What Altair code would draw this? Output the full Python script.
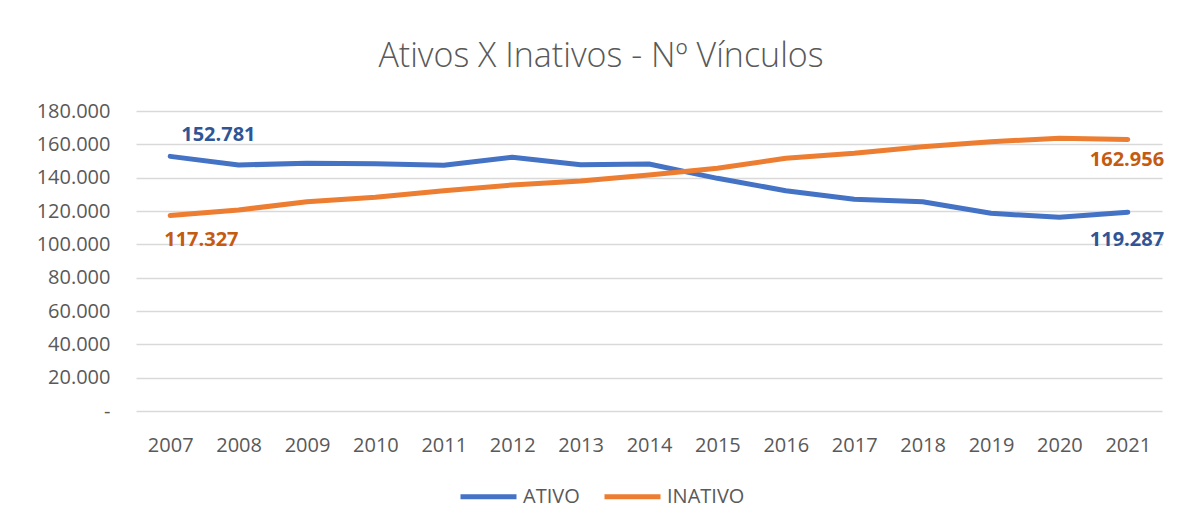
import altair as alt
import pandas as pd

years = [str(y) for y in range(2007, 2022)]
ativo = [152781, 147600, 148600, 148400, 147400, 152200, 147800, 148200,
         139600, 132200, 127000, 125600, 118600, 116200, 119287]
inativo = [117327, 120600, 125600, 128200, 132200, 135600, 138000, 141600,
           145600, 151600, 154600, 158600, 161600, 163600, 162956]
series = ["ATIVO", "INATIVO"]
colors = ["#4472C4", "#ED7D31"]
y_ticks = [0, 20000, 40000, 60000, 80000, 100000, 120000, 140000, 160000, 180000]

df = pd.DataFrame(
    [{"ano": y, "serie": "ATIVO", "valor": v} for y, v in zip(years, ativo)]
    + [{"ano": y, "serie": "INATIVO", "valor": v} for y, v in zip(years, inativo)]
)

FONT = "Open Sans"
GREY = "#595959"

x_enc = alt.X("ano:N", sort=years,
              scale=alt.Scale(type="point", padding=0.5),
              axis=alt.Axis(title=None, labelAngle=0, domain=False, ticks=False,
                            labelPadding=24, labelFontSize=20, labelFont=FONT,
                            labelColor=GREY, grid=False))
y_enc = alt.Y("valor:Q",
              scale=alt.Scale(domain=[0, 180000], nice=False, zero=True),
              axis=alt.Axis(title=None, values=y_ticks, domain=False, ticks=False,
                            tickSize=0, labelPadding=26, labelFontSize=20,
                            labelFont=FONT, labelColor=GREY, labelOverlap=False,
                            gridColor="#D9D9D9", gridWidth=1.3,
                            labelExpr="datum.value == 0 ? '-\u00a0\u00a0' : format(datum.value, ',d')"))

base = alt.Chart(df)

lines = base.mark_line(strokeWidth=5, strokeCap="round", strokeJoin="round").encode(
    x=x_enc, y=y_enc,
    color=alt.Color("serie:N", scale=alt.Scale(domain=series, range=colors),
                    legend=alt.Legend(title=None, orient="none", direction="horizontal",
                                      legendX=322, legendY=355,
                                      symbolType="stroke", symbolSize=3136,
                                      symbolStrokeWidth=5, labelFontSize=20,
                                      labelFont=FONT, labelColor=GREY,
                                      labelOffset=4, columnPadding=14)),
)


def label(serie, year, color, dx, dy):
    return base.transform_filter(
        (alt.datum.serie == serie) & (alt.datum.ano == year)
    ).mark_text(align="left", baseline="middle", dx=dx, dy=dy, fontSize=20,
                fontWeight="bold", font=FONT, color=color).encode(
        x=x_enc, y=y_enc,
        text=alt.Text("valor:Q", format=",d"),
    )


labels = [
    label("ATIVO", years[0], "#2F5597", 11, -21),
    label("INATIVO", years[0], "#C55A11", -6, 25),
    label("INATIVO", years[-1], "#C55A11", -38, 21),
    label("ATIVO", years[-1], "#2F5597", -38, 28),
]

chart = alt.layer(lines, *labels).properties(
    width=1026, height=300,
    title=alt.TitleParams("Ativos X Inativos - Nº Vínculos", fontSize=34,
                          font=FONT, fontWeight=300, color=GREY,
                          anchor="middle", frame="group", dx=-48, offset=0,
                          baseline="alphabetic"),
    autosize=alt.AutoSizeParams(type="none"),
    padding={"left": 128, "top": 103, "right": 8, "bottom": 110},
).configure(background="white").configure_view(strokeWidth=0, stroke="transparent")

chart.save("out.html", embed_options={
    "renderer": "svg", "actions": False,
    "formatLocale": {"decimal": ",", "thousands": ".", "grouping": [3],
                     "currency": ["R$", ""]},
})
